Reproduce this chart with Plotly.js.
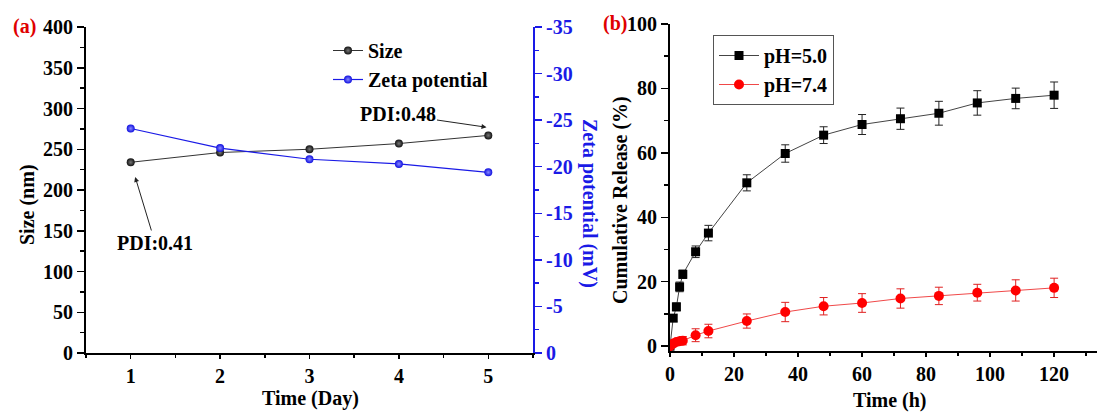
<!DOCTYPE html>
<html>
<head>
<meta charset="utf-8">
<script src="https://cdn.plot.ly/plotly-3.0.1.min.js"></script>
<style>html,body{margin:0;padding:0;background:#fff;}#chart{width:1097px;height:412px;}</style>
</head>
<body>
<div id="chart"></div>
<script>
// ---- Panel (a) data ----
const days = [1, 2, 3, 4, 5];
const sizeNm = [234, 246, 250, 257, 267];
const zetaMv = [-24.1, -22.0, -20.8, -20.3, -19.4];
const zetaTickVals = [0, -5, -10, -15, -20, -25, -30, -35];
const zetaTickText = ['0', '-5', '-10', '-15', '-20', '-25', '-30', '-35'];
const pdiLabels = ['PDI:0.41', 'PDI:0.48'];

// ---- Panel (b) data ----
const hours = [0, 1, 2, 3, 4, 8, 12, 24, 36, 48, 60, 72, 84, 96, 108, 120];
const releasePH50 = [0, 8.7, 12.2, 18.4, 22.3, 29.3, 35.1, 50.7, 59.8, 65.5, 68.8, 70.6, 72.3, 75.5, 76.9, 77.9];
const errPH50 = [0, 1.0, 1.2, 1.5, 1.3, 1.8, 2.4, 2.5, 2.7, 2.6, 3.1, 3.3, 3.7, 3.8, 3.2, 4.1];
const releasePH74 = [0, 0.8, 1.3, 1.5, 1.7, 3.4, 4.7, 7.8, 10.6, 12.4, 13.4, 14.8, 15.6, 16.6, 17.3, 18.1];
const errPH74 = [0, 0.5, 0.8, 1.0, 1.3, 2.0, 2.1, 2.2, 3.0, 2.7, 2.9, 3.0, 2.7, 2.6, 3.3, 3.0];

const W = 1097, H = 412;
const px = v => v / W;
const py = v => 1 - v / H;
const FONT = 'Liberation Serif, Times New Roman, serif';
const BLUE = '#1a1ae6';
const FS = 20;
const f = (size, color) => ({family: FONT, size: size, color: color || '#000', weight: 700});
const label = (text, x, y, angle, color) => ({
  text: text, xref: 'paper', yref: 'paper', x: px(x), y: py(y), xanchor: 'center', yanchor: 'middle',
  textangle: angle || 0, showarrow: false, font: f(FS, color)
});

const traces = [
  {
    x: days, y: sizeNm, name: 'Size', type: 'scatter', mode: 'lines+markers',
    xaxis: 'x', yaxis: 'y', legend: 'legend',
    line: {color: '#333', width: 1},
    marker: {color: '#111', size: 8, symbol: 'circle', gradient: {type: 'radial', color: '#777'}}
  },
  {
    x: days, y: zetaMv, name: 'Zeta potential', type: 'scatter', mode: 'lines+markers',
    xaxis: 'x', yaxis: 'y2', legend: 'legend',
    line: {color: BLUE, width: 1.2},
    marker: {color: '#1010e0', size: 8, symbol: 'circle', gradient: {type: 'radial', color: '#8888ff'}}
  },
  {
    x: hours, y: releasePH50, name: 'pH=5.0', type: 'scatter', mode: 'lines+markers',
    xaxis: 'x2', yaxis: 'y3', legend: 'legend2',
    line: {color: '#444', width: 1},
    marker: {color: '#000', size: 9, symbol: 'square'},
    error_y: {type: 'data', array: errPH50, visible: true, color: '#222', thickness: 1, width: 4}
  },
  {
    x: hours, y: releasePH74, name: 'pH=7.4', type: 'scatter', mode: 'lines+markers',
    xaxis: 'x2', yaxis: 'y3', legend: 'legend2',
    line: {color: '#f04848', width: 1},
    marker: {color: '#ff0000', size: 10, symbol: 'circle'},
    error_y: {type: 'data', array: errPH74, visible: true, color: '#e02020', thickness: 1, width: 4}
  }
];

const layout = {
  width: W, height: H,
  margin: {l: 0, r: 0, t: 0, b: 0, pad: 0},
  paper_bgcolor: '#fff', plot_bgcolor: 'rgba(0,0,0,0)',
  font: f(FS),
  showlegend: true,
  xaxis: {
    domain: [px(86), px(533)], range: [0.5, 5.5], anchor: 'y',
    tickmode: 'array', tickvals: days, ticks: 'outside', ticklen: 4, tickwidth: 1.5, tickcolor: '#000',
    minor: {dtick: 0.5, ticks: 'outside', ticklen: 3, tickwidth: 1.5, tickcolor: '#000'},
    showline: true, linecolor: '#000', linewidth: 2, showgrid: false, zeroline: false,
    tickfont: f(FS)
  },
  xaxis3: {
    overlaying: 'x', side: 'top', anchor: 'y', range: [0.5, 5.5],
    tickmode: 'array', tickvals: days, ticks: 'inside', ticklen: 6, tickwidth: 1.5, tickcolor: '#000',
    minor: {dtick: 0.5, ticks: 'inside', ticklen: 4, tickwidth: 1.5, tickcolor: '#000'},
    showticklabels: false, showline: true, linecolor: '#333', linewidth: 1.5, showgrid: false, zeroline: false
  },
  yaxis: {
    domain: [py(353), py(27)], range: [0, 400], anchor: 'x',
    dtick: 50, ticks: 'outside', ticklen: 7, tickwidth: 1.5, tickcolor: '#000',
    minor: {dtick: 25, ticks: 'outside', ticklen: 4, tickwidth: 1.5, tickcolor: '#000'},
    showline: true, linecolor: '#000', linewidth: 2, showgrid: false, zeroline: false,
    tickfont: f(FS)
  },
  yaxis2: {
    overlaying: 'y', side: 'right', anchor: 'x', range: [0, -35],
    tickmode: 'array', tickvals: zetaTickVals, ticktext: zetaTickText,
    ticks: 'outside', ticklen: 7, tickwidth: 1.5, tickcolor: BLUE,
    minor: {dtick: 2.5, ticks: 'outside', ticklen: 4, tickwidth: 1.5, tickcolor: BLUE},
    showline: true, linecolor: BLUE, linewidth: 2, showgrid: false, zeroline: false,
    tickfont: f(FS, BLUE)
  },
  xaxis2: {
    domain: [px(670), 1], range: [0, 133.4], anchor: 'y3',
    dtick: 20, ticks: 'outside', ticklen: 4, tickwidth: 1.5, tickcolor: '#000',
    minor: {dtick: 10, ticks: 'outside', ticklen: 3, tickwidth: 1.5, tickcolor: '#000'},
    showline: true, linecolor: '#000', linewidth: 2, showgrid: false, zeroline: false,
    tickfont: f(FS)
  },
  yaxis3: {
    domain: [py(351), py(24)], range: [-1.5, 100], anchor: 'x2',
    tickvals: [0, 20, 40, 60, 80, 100], ticks: 'outside', ticklen: 7, tickwidth: 1.5, tickcolor: '#000',
    minor: {dtick: 10, ticks: 'outside', ticklen: 4, tickwidth: 1.5, tickcolor: '#000'},
    showline: true, linecolor: '#000', linewidth: 2, showgrid: false, zeroline: false,
    tickfont: f(FS)
  },
  legend: {
    x: px(328), y: py(31), xanchor: 'left', yanchor: 'top',
    bgcolor: 'rgba(0,0,0,0)', borderwidth: 0, font: f(FS), tracegroupgap: 0
  },
  legend2: {
    x: px(713), y: py(35), xanchor: 'left', yanchor: 'top', itemwidth: 40,
    bgcolor: '#fff', bordercolor: '#555', borderwidth: 1, font: f(FS), tracegroupgap: 0
  },
  annotations: [
    label('(a)', 24, 27, 0, '#e00000'),
    label('(b)', 615, 24, 0, '#e00000'),
    label('Size (nm)', 27, 205, -90),
    label('Zeta potential (mV)', 590, 203, 90, BLUE),
    label('Cumulative Release (%)', 620, 200, -90),
    label('Time (Day)', 310, 398),
    label('Time (h)', 890, 400),
    {text: pdiLabels[0], xref: 'x', yref: 'y', x: days[0] + 0.05, y: sizeNm[0] - 18, ax: 20, ay: 66,
     showarrow: true, arrowhead: 2, arrowsize: 1, arrowwidth: 1, arrowcolor: '#222', font: f(FS)},
    {text: pdiLabels[1], xref: 'x', yref: 'y', x: days[4] - 0.02, y: sizeNm[4] + 10, ax: -89, ay: -13,
     showarrow: true, arrowhead: 2, arrowsize: 1, arrowwidth: 1, arrowcolor: '#222', font: f(FS)}
  ]
};

Plotly.newPlot('chart', traces, layout, {displayModeBar: false, staticPlot: true});
</script>
</body>
</html>
